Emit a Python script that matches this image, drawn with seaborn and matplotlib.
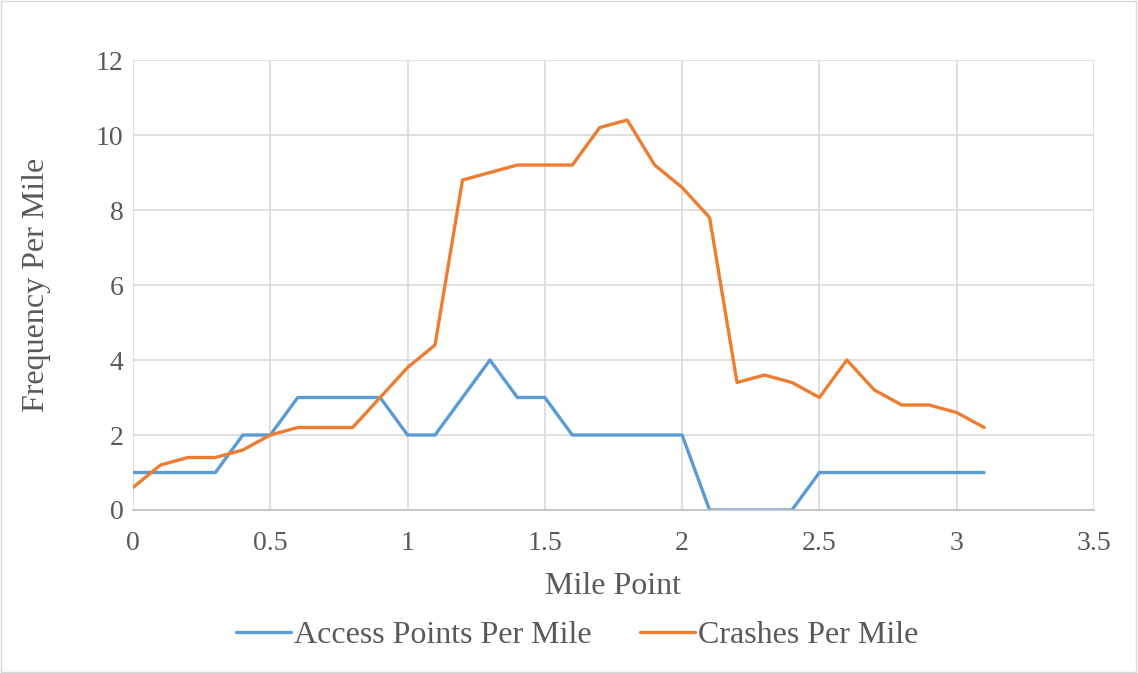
import matplotlib
matplotlib.use("Agg")
import matplotlib.pyplot as plt
import seaborn as sns
import pandas as pd
import numpy as np

mile_points = [0, 0.1, 0.2, 0.3, 0.4, 0.5, 0.6, 0.7, 0.8, 0.9, 1.0, 1.1, 1.2, 1.3, 1.4, 1.5,
               1.6, 1.7, 1.8, 1.9, 2.0, 2.1, 2.2, 2.3, 2.4, 2.5, 2.6, 2.7, 2.8, 2.9, 3.0, 3.1]
access_points = [1, 1, 1, 1, 2, 2, 3, 3, 3, 3, 2, 2, 3, 4, 3, 3,
                 2, 2, 2, 2, 2, 0, 0, 0, 0, 1, 1, 1, 1, 1, 1, 1]
crashes = [0.6, 1.2, 1.4, 1.4, 1.6, 2.0, 2.2, 2.2, 2.2, 3.0, 3.8, 4.4, 8.8, 9.0, 9.2, 9.2,
           9.2, 10.2, 10.4, 9.2, 8.6, 7.8, 3.4, 3.6, 3.4, 3.0, 4.0, 3.2, 2.8, 2.8, 2.6, 2.2]
series_names = ["Access Points Per Mile", "Crashes Per Mile"]
x_ticks = [0, 0.5, 1, 1.5, 2, 2.5, 3, 3.5]
x_tick_labels = ["0", "0.5", "1", "1.5", "2", "2.5", "3", "3.5"]
y_ticks = [0, 2, 4, 6, 8, 10, 12]

df = pd.DataFrame({
    "Mile Point": mile_points * 2,
    "value": access_points + crashes,
    "series": [series_names[0]] * len(mile_points) + [series_names[1]] * len(mile_points),
})

sns.set_theme(style="white")
plt.rcParams["font.family"] = ["Liberation Serif", "DejaVu Serif"]

fig = plt.figure(figsize=(11.38, 6.73), dpi=100)
ax = fig.add_axes([0.1169, 0.2422, 0.8444, 0.6686])

sns.lineplot(data=df, x="Mile Point", y="value", hue="series",
             palette=["#5b9bd5", "#ed7d31"], linewidth=2.4, ax=ax, legend=True)

ax.set_xlim(0, 3.5)
ax.set_ylim(0, 12)
ax.set_xticks(x_ticks)
ax.set_xticklabels(x_tick_labels)
ax.set_yticks(y_ticks)
ax.grid(True, color="#d9d9d9", linewidth=1.2)
ax.set_axisbelow(True)
for s in ["top", "right", "left"]:
    ax.spines[s].set_visible(False)
ax.spines["bottom"].set_color("#bfbfbf")
ax.spines["bottom"].set_linewidth(1.2)
ax.tick_params(axis="y", length=0, labelsize=20, colors="#595959", pad=7)
ax.tick_params(axis="x", length=0, labelsize=20, colors="#595959", pad=15)
ax.set_xlabel("Mile Point", fontsize=23, color="#595959", labelpad=12)
ax.set_ylabel("Frequency Per Mile", fontsize=23, color="#595959", labelpad=32)

handles, labels = ax.get_legend_handles_labels()
leg = ax.legend(handles, labels, loc="center", bbox_to_anchor=(0.507, 0.056),
                bbox_transform=fig.transFigure, ncol=2, frameon=False,
                fontsize=23, handlelength=1.75, columnspacing=1.5, handletextpad=0.08)
for t in leg.get_texts():
    t.set_color("#595959")
for line in leg.get_lines():
    line.set_linewidth(2.4)

fig.patches.append(matplotlib.patches.Rectangle((0.001, 0.001), 0.997, 0.997,
                   transform=fig.transFigure, fill=False, edgecolor="#d9d9d9", linewidth=1))

fig.savefig("out.png", dpi=100)
